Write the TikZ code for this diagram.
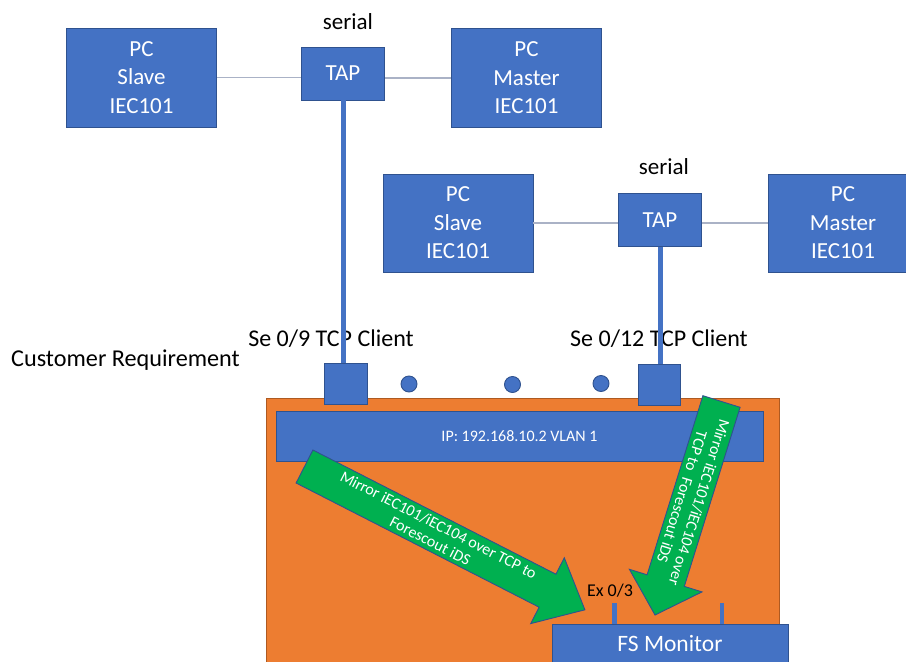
\documentclass[tikz,border=0pt]{standalone}
\usepackage{fontspec}
\setmainfont{Carlito}
\definecolor{offblue}{HTML}{4472C4}
\definecolor{bdblue}{HTML}{2F528F}
\definecolor{offorange}{HTML}{ED7D31}
\definecolor{bdorange}{HTML}{AE5A21}
\definecolor{offgreen}{HTML}{00B050}
\definecolor{lnk}{RGB}{170,178,198}
\tikzset{
  bluebox/.style={draw=bdblue, fill=offblue, line width=0.9pt, align=center, text=white, inner sep=0pt,
    font=\fontsize{23}{28.5}\selectfont},
  pcbox/.style={bluebox, minimum width=150pt, minimum height=99pt},
  tapbox/.style={bluebox, minimum width=83pt, minimum height=53pt},
  portbox/.style={bluebox, minimum width=43pt, minimum height=41pt},
  dot/.style={circle, draw=bdblue, fill=offblue, line width=0.9pt, minimum size=16pt, inner sep=0pt},
  thinlink/.style={draw=lnk, line width=1.5pt},
  taplink/.style={draw=offblue, line width=5pt},
  lbl/.style={text=black, inner sep=0pt, font=\fontsize{23}{28}\selectfont},
  greenarrow/.style={draw=bdblue, fill=offgreen, line width=0.9pt, line join=miter},
  arrowtext/.style={text=white, align=center, inner sep=0pt, font=\fontsize{16}{18}\selectfont},
}
\begin{document}
\begin{tikzpicture}[x=1pt,y=-1pt]
\useasboundingbox[fill=white] (0,0) rectangle (906,662);
\begin{scope}
\clip (0,0) rectangle (906,662);
% top row
\node[pcbox] (slave1) at (141.5,77.5) {PC\\Slave\\IEC101};
\node[tapbox] (tap1) at (343,73.5) {TAP};
\node[pcbox] (master1) at (526.5,78) {PC\\Master\\IEC101};
\node[lbl] (serial1) at (348,22) {serial};
\draw[thinlink] (slave1.east) -- (slave1.east -| tap1.west);
\draw[thinlink] (master1.west -| tap1.east) -- (master1.west);
% second row
\node[pcbox, minimum height=98pt] (slave2) at (458,223) {PC\\Slave\\IEC101};
\node[tapbox] (tap2) at (660,220) {TAP};
\node[pcbox, minimum height=98pt] (master2) at (843,223) {PC\\Master\\IEC101};
\node[lbl] (serial2) at (664,167) {serial};
\draw[thinlink] (slave2.east) -- (slave2.east -| tap2.west);
\draw[thinlink] (master2.west -| tap2.east) -- (master2.west);
% switch
\node[draw=bdorange, fill=offorange, line width=0.9pt, minimum width=513pt, minimum height=280pt, inner sep=0pt, anchor=north west] (switch) at (266,398) {};
\node[bluebox, minimum width=487pt, minimum height=50pt, font=\fontsize{16}{18}\selectfont] (bar) at (519.5,436) {IP: 192.168.10.2 VLAN 1};
\node[portbox] (port1) at (345.5,384) {};
\node[portbox, minimum width=42pt] (port2) at (659,384.5) {};
\node[dot] (d1) at (409,384) {};
\node[dot] (d2) at (512.5,384.5) {};
\node[dot] (d3) at (601,383.5) {};
% labels
\node[lbl, font=\fontsize{24}{28}\selectfont] (se9) at (331,339) {Se 0/9 TCP Client};
\node[lbl, font=\fontsize{24}{28}\selectfont] (se12) at (659,339) {Se 0/12 TCP Client};
\node[lbl, anchor=west, font=\fontsize{24.2}{28}\selectfont] (cust) at (11,360) {Customer Requirement};
\draw[taplink] (tap1.south) -- (tap1.south |- port1.north);
\draw[taplink] (tap2.south) -- (tap2.south |- port2.north);
% FS monitor
\node[bluebox, minimum width=236pt, minimum height=42pt] (fs) at (670,645) {};
\node[text=white, inner sep=0pt, font=\fontsize{23.5}{28}\selectfont] (fstext) at (670,643) {FS Monitor};
\fill[offblue] (612,603) rectangle (617,624);
\fill[offblue] (720,603) rectangle (724,624);
\node[lbl, font=\fontsize{18}{20}\selectfont] (ex) at (610,591) {Ex 0/3};
% green arrows
\draw[greenarrow] (312.9,450.0) -- (555.9,574.2) -- (564.3,557.8) -- (584.9,609.8) -- (530.7,623.6) -- (539.1,607.2) -- (296.1,483.0) -- cycle;
\node[arrowtext, rotate=-27.1] (a1text) at (434.5,532.9) {Mirror iEC101/iEC104 over TCP to\\Forescout iDS};
\draw[greenarrow] (740.1,407.3) -- (684.3,586.4) -- (702.0,591.9) -- (655,615) -- (629.4,569.3) -- (647.1,574.8) -- (702.9,395.7) -- cycle;
\node[arrowtext, rotate=-107.3] (a2text) at (690.9,499.8) {Mirror iEC101/iEC104 over\\TCP to\ \ Forescout iDS};
\end{scope}
\end{tikzpicture}
\end{document}
